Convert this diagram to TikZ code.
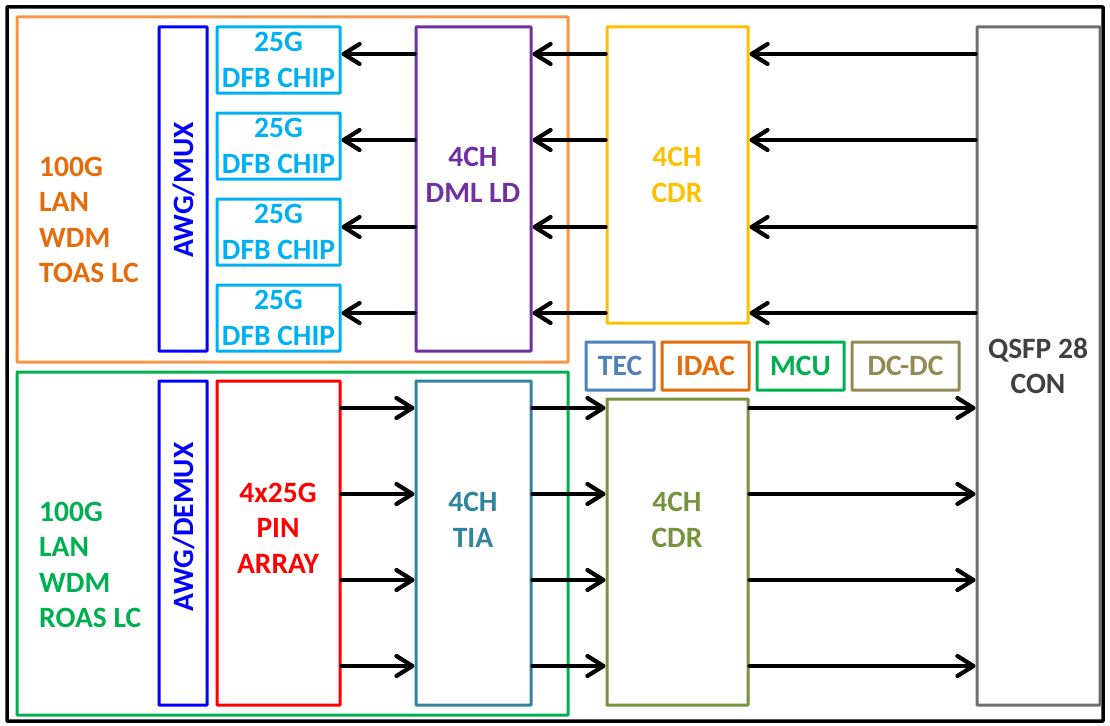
\documentclass[tikz,border=0pt]{standalone}
\usepackage{fontspec}
\setmainfont{Carlito}
\usetikzlibrary{arrows.meta,fit}
\definecolor{cOrBox}{HTML}{F79646}
\definecolor{cOrTxt}{HTML}{E46C0A}
\definecolor{cGreen}{HTML}{00B050}
\definecolor{cBlue}{HTML}{0000FF}
\definecolor{cCyan}{HTML}{00B0F0}
\definecolor{cPurple}{HTML}{7030A0}
\definecolor{cYellow}{HTML}{FFC000}
\definecolor{cRed}{HTML}{FF0000}
\definecolor{cTeal}{HTML}{31849B}
\definecolor{cOlive}{HTML}{77933C}
\definecolor{cTec}{HTML}{4F81BD}
\definecolor{cDcdc}{HTML}{948A54}
\definecolor{cGray}{HTML}{6F6F6F}
\definecolor{cGrayTxt}{HTML}{404040}
\begin{document}
\begin{tikzpicture}[x=1pt,y=-1pt,
  box/.style={draw, line width=3pt, inner sep=0pt, rounded corners=0.6pt},
  lbl/.style={font=\fontsize{29.5}{35.5}\selectfont\bfseries, align=center, inner sep=0pt},
  llbl/.style={font=\fontsize{29.5}{35.5}\selectfont\bfseries, align=left, inner sep=0pt},
  arr/.style={line width=4.2pt, line cap=round, -{Straight Barb[length=16pt,width=20pt,line cap=round,line join=round]}}]
\useasboundingbox (0,0) rectangle (1110,725);
\fill[white] (0,0) rectangle (1110,725);
% frames
\node[box, draw=black, line width=3.5pt, fit={(7,7)(1103,721)}] (frame) {};
\node[box, draw=cOrBox, fit={(17,17)(568,362)}] (tx) {};
\node[box, draw=cGreen, fit={(17,372)(568,715)}] (rx) {};
% mux / demux
\node[box, draw=cBlue, fit={(159,27)(207,351)}] (mux) {};
\node[box, draw=cBlue, fit={(159,381)(207,705)}] (demux) {};
\node[lbl, text=cBlue, rotate=90] (muxt) at (184,190) {AWG/MUX};
\node[lbl, text=cBlue, rotate=90] (demuxt) at (184,527) {AWG/DEMUX};
% DFB chips
\node[box, draw=cCyan, fit={(217,27)(340,93)}] (dfb1) {};
\node[box, draw=cCyan, fit={(217,113)(340,179)}] (dfb2) {};
\node[box, draw=cCyan, fit={(217,199)(340,265)}] (dfb3) {};
\node[box, draw=cCyan, fit={(217,285)(340,351)}] (dfb4) {};
\foreach \n in {1,...,4}{
  \node[lbl, text=cCyan] (dfbt\n) at (dfb\n.center) {25G\\DFB CHIP};
}
% PIN
\node[box, draw=cRed, fit={(217,381)(340,705)}] (pin) {};
\node[lbl, text=cRed] (pint) at (278,528) {4x25G\\PIN\\ARRAY};
% DML / TIA
\node[box, draw=cPurple, fit={(416,27)(531,351)}] (dml) {};
\node[lbl, text=cPurple] (dmlt) at (473,175) {4CH\\DML LD};
\node[box, draw=cTeal, fit={(416,381)(531,705)}] (tia) {};
\node[lbl, text=cTeal] (tiat) at (473,520) {4CH\\TIA};
% CDRs
\node[box, draw=cYellow, fit={(607,27)(748,323)}] (cdrT) {};
\node[lbl, text=cYellow] (cdrTt) at (677,175) {4CH\\CDR};
\node[box, draw=cOlive, fit={(607,399)(748,705)}] (cdrB) {};
\node[lbl, text=cOlive] (cdrBt) at (677,520) {4CH\\CDR};
% small blocks
\node[box, draw=cTec, fit={(586,342)(654,390)}] (tec) {};
\node[lbl, text=cTec] (tect) at (tec.center) {TEC};
\node[box, draw=cOrTxt, fit={(662,342)(749,390)}] (idac) {};
\node[lbl, text=cOrTxt] (idact) at (idac.center) {IDAC};
\node[box, draw=cGreen, fit={(757,342)(844,390)}] (mcu) {};
\node[lbl, text=cGreen] (mcut) at (mcu.center) {MCU};
\node[box, draw=cDcdc, fit={(852,342)(959,390)}] (dcdc) {};
\node[lbl, text=cDcdc] (dcdct) at (dcdc.center) {DC-DC};
% QSFP
\node[box, draw=cGray, fit={(977,27)(1100,705)}] (qsfp) {};
\node[lbl, text=cGrayTxt] (qsfpt) at (1038,366) {QSFP 28\\CON};
% side labels
\node[llbl, text=cOrTxt, anchor=west] (txl) at (39,220) {100G\\LAN\\WDM\\TOAS LC};
\node[llbl, text=cGreen, anchor=west] (rxl) at (39,565) {100G\\LAN\\WDM\\ROAS LC};
% rows
\coordinate (t1) at (0,54);
\coordinate (t2) at (0,140);
\coordinate (t3) at (0,227);
\coordinate (t4) at (0,313);
\coordinate (b1) at (0,408);
\coordinate (b2) at (0,494);
\coordinate (b3) at (0,580);
\coordinate (b4) at (0,666);
\foreach \r in {t1,t2,t3,t4}{
  \draw[arr] (qsfp.west |- \r) -- (cdrT.east |- \r);
  \draw[arr] (cdrT.west |- \r) -- (dml.east |- \r);
}
\draw[arr] (dml.west |- t1) -- (dfb1.east |- t1);
\draw[arr] (dml.west |- t2) -- (dfb2.east |- t2);
\draw[arr] (dml.west |- t3) -- (dfb3.east |- t3);
\draw[arr] (dml.west |- t4) -- (dfb4.east |- t4);
\foreach \r in {b1,b2,b3,b4}{
  \draw[arr] (pin.east |- \r) -- (tia.west |- \r);
  \draw[arr] (tia.east |- \r) -- (cdrB.west |- \r);
  \draw[arr] (cdrB.east |- \r) -- (qsfp.west |- \r);
}
\end{tikzpicture}
\end{document}
